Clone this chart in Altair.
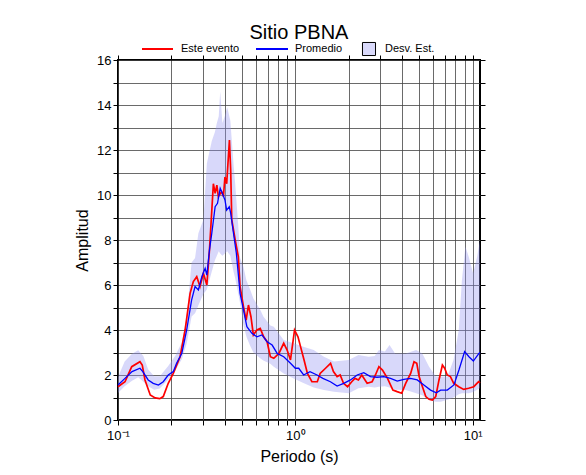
import altair as alt
import pandas as pd

# ---- data ----
red_period = [0.100, 0.1095, 0.1195, 0.133, 0.137, 0.142, 0.152, 0.162, 0.172, 0.180, 0.192, 0.205,
              0.224, 0.239, 0.255, 0.266, 0.278, 0.290, 0.303, 0.317, 0.328, 0.345, 0.353, 0.361,
              0.368, 0.384, 0.393, 0.401, 0.410, 0.425, 0.432, 0.438, 0.458, 0.477, 0.488, 0.510,
              0.528, 0.544, 0.562, 0.580, 0.607, 0.634, 0.663, 0.693, 0.723, 0.756, 0.808, 0.860,
              0.899, 0.939, 0.973, 0.990, 1.035, 1.07, 1.12, 1.17, 1.24, 1.33, 1.38, 1.48, 1.58,
              1.64, 1.72, 1.79, 1.87, 1.97, 2.08, 2.17, 2.27, 2.37, 2.54, 2.71, 2.83, 2.96, 3.10,
              3.31, 3.55, 3.75, 3.98, 4.19, 4.47, 4.67, 4.84, 4.99, 5.21, 5.44, 5.68, 5.93, 6.19,
              6.46, 6.75, 6.95, 7.19, 7.49, 7.82, 8.35, 8.90, 9.49, 10.15, 10.8, 11.0]
red_amp = [1.48, 1.70, 2.37, 2.59, 2.44, 1.78, 1.11, 0.98, 0.95, 1.04, 1.63, 2.07,
           2.81, 4.00, 5.63, 6.15, 6.37, 5.93, 6.52, 6.00, 7.56, 10.5, 10.07, 10.44,
           9.93, 10.15, 9.93, 10.8, 10.5, 12.44, 11.1, 8.9, 8.0, 7.26, 5.93, 5.04,
           4.44, 5.11, 4.59, 3.78, 4.00, 4.07, 3.70, 3.48, 2.81, 2.74, 2.96, 3.41,
           3.11, 2.67, 3.56, 4.00, 3.70, 3.26, 2.67, 2.07, 1.70, 1.70, 2.07, 2.30, 2.52,
           2.15, 1.93, 2.00, 1.63, 1.48, 1.70, 1.85, 1.78, 2.00, 1.63, 1.70, 2.00, 2.37, 2.22,
           1.85, 1.33, 1.26, 1.19, 1.63, 2.07, 2.59, 2.52, 1.93, 1.48, 1.04, 0.92, 0.89, 1.04,
           1.78, 2.44, 2.30, 2.00, 1.93, 1.63, 1.48, 1.36, 1.41, 1.48, 1.70, 1.65]

blue_period = [0.100, 0.1095, 0.120, 0.133, 0.138, 0.148, 0.158, 0.169, 0.180, 0.192, 0.205, 0.214,
               0.229, 0.244, 0.260, 0.272, 0.284, 0.297, 0.310, 0.317, 0.328, 0.338, 0.353, 0.364,
               0.377, 0.388, 0.401, 0.410, 0.424, 0.432, 0.448, 0.465, 0.488, 0.510, 0.533, 0.569,
               0.607, 0.648, 0.693, 0.740, 0.790, 0.860, 0.939, 1.00, 1.045, 1.114, 1.21, 1.326,
               1.43, 1.577, 1.72, 1.875, 2.046, 2.232, 2.432, 2.653, 2.894, 3.155, 3.442, 3.756,
               4.092, 4.465, 4.871, 5.307, 5.79, 6.235, 6.596, 7.194, 7.843, 8.367, 9.01, 9.53,
               10.09, 10.85, 11.0]
blue_amp = [1.56, 1.85, 2.15, 2.30, 2.15, 1.78, 1.63, 1.55, 1.70, 2.00, 2.15, 2.52,
            2.96, 4.00, 5.33, 5.93, 5.78, 6.37, 6.74, 6.44, 7.56, 8.30, 9.48, 9.63,
            10.3, 10.07, 9.78, 9.33, 9.48, 9.19, 8.30, 7.41, 5.63, 4.89, 4.15, 3.85,
            3.70, 3.78, 3.48, 3.33, 2.96, 2.81, 2.52, 2.30, 2.30, 2.00, 2.15, 2.00,
            1.85, 1.70, 1.51, 1.63, 1.78, 2.00, 2.10, 1.93, 1.90, 1.93, 1.85, 1.73,
            1.81, 1.85, 1.78, 1.56, 1.33, 1.21, 1.33, 1.33, 1.56, 2.22, 3.04, 2.81,
            2.62, 2.96, 3.00]

band_period = [0.100, 0.109, 0.120, 0.130, 0.139, 0.148, 0.160, 0.172, 0.192, 0.210, 0.229, 0.244,
               0.260, 0.272, 0.284, 0.303, 0.317, 0.338, 0.352, 0.361, 0.370, 0.377, 0.388, 0.400,
               0.413, 0.430, 0.448, 0.458, 0.477, 0.488, 0.510, 0.530, 0.556, 0.580, 0.634, 0.660,
               0.723, 0.756, 0.860, 0.980, 1.11, 1.27, 1.45, 1.65, 2.00, 2.27, 2.59, 2.80, 2.96,
               3.20, 3.40, 3.65, 4.20, 4.80, 5.20, 5.68, 6.20, 6.60, 7.20, 7.80, 8.35, 8.70, 9.10,
               9.50, 10.06, 10.6, 11.0]
band_lo = [1.20, 1.50, 1.75, 1.90, 1.70, 1.50, 1.35, 1.40, 1.80, 2.20, 2.70, 3.40,
           4.60, 4.75, 5.10, 5.60, 5.80, 6.60, 7.10, 7.30, 7.50, 7.40, 7.30, 7.40,
           7.50, 7.30, 6.60, 6.30, 5.60, 5.20, 4.20, 3.70, 3.30, 3.00, 2.75, 2.65,
           2.50, 2.37, 2.07, 1.85, 1.65, 1.45, 1.33, 1.26, 1.19, 1.41, 1.48, 1.45, 1.48,
           1.50, 1.45, 1.35, 1.33, 1.19, 1.10, 0.89, 0.81, 0.81, 0.90, 1.00, 1.15, 1.19, 1.19,
           1.19, 1.25, 1.35, 1.41]
band_hi = [1.90, 2.60, 2.95, 3.10, 2.85, 2.25, 1.95, 1.95, 2.40, 2.85, 3.45, 4.60,
           7.00, 7.20, 8.30, 8.90, 11.4, 12.4, 12.8, 13.2, 13.5, 14.6, 13.2, 13.5,
           13.9, 13.3, 11.4, 10.5, 8.60, 7.20, 6.80, 6.20, 5.80, 5.40, 4.90, 4.60,
           4.20, 4.15, 3.56, 3.41, 3.26, 3.11, 2.81, 2.60, 2.67, 2.89, 2.81, 2.85, 3.11,
           3.04, 3.33, 2.96, 2.96, 3.11, 2.96, 2.37, 1.93, 1.93, 1.93, 2.67, 4.00, 6.22, 7.70,
           7.26, 6.52, 7.26, 8.00]

x_ticks = [0.1, 0.2, 0.3, 0.4, 0.5, 0.6, 0.7, 0.8, 0.9, 1, 2, 3, 4, 5, 6, 7, 8, 9, 10]
y_ticks = list(range(0, 17))
legend_labels = ["Este evento", "Promedio", "Desv. Est."]

FONT = "Liberation Sans"
RED = "#ff0000"
BLUE = "#0000ff"
BAND = "#9494f2"

df_red = pd.DataFrame({"period": red_period, "amp": red_amp})
df_blue = pd.DataFrame({"period": blue_period, "amp": blue_amp})
df_band = pd.DataFrame({"period": band_period, "lo": band_lo, "hi": band_hi})
df_leg = pd.DataFrame({"label": legend_labels})

xscale = alt.Scale(type="log", domain=[0.1, 11], nice=False)
yscale = alt.Scale(domain=[0, 16], nice=False, zero=False)

xlab = ("datum.value == 0.1 ? '10\u207b\u00b9' : (datum.value == 1 ? '10\u2070' : "
        "(datum.value == 10 ? '10\u00b9' : ''))")
xaxis = alt.Axis(values=x_ticks, labelExpr=xlab, labelOverlap=False, labelFlush=False,
                 title="Periodo (s)", grid=True, labelPadding=4, titlePadding=6)
yaxis = alt.Axis(values=y_ticks, labelExpr="datum.value % 2 == 0 ? datum.label : ''",
                 labelOverlap=False, title="Amplitud", grid=True, titlePadding=6)

band = alt.Chart(df_band).mark_area(color=BAND, opacity=0.36).encode(
    x=alt.X("period:Q", scale=xscale, axis=xaxis),
    y=alt.Y("lo:Q", scale=yscale, axis=yaxis),
    y2="hi:Q",
)
red = alt.Chart(df_red).mark_line(color=RED, strokeWidth=1.7).encode(
    x=alt.X("period:Q", scale=xscale, axis=xaxis),
    y=alt.Y("amp:Q", scale=yscale, axis=yaxis),
)
blue = alt.Chart(df_blue).mark_line(color=BLUE, strokeWidth=1.3).encode(
    x=alt.X("period:Q", scale=xscale, axis=xaxis),
    y=alt.Y("amp:Q", scale=yscale, axis=yaxis),
)
main = alt.layer(band, red, blue)

frame = alt.Chart(df_blue).mark_line(opacity=0).encode(
    x=alt.X("period:Q", scale=xscale,
            axis=alt.Axis(orient="top", values=x_ticks, labels=False, grid=False, title=None)),
    y=alt.Y("amp:Q", scale=yscale,
            axis=alt.Axis(orient="right", values=y_ticks, labels=False, grid=False, title=None)),
)

# legend (drawn above the plot)
LY = -11
leg_items = []
leg_items.append(alt.Chart(df_leg).transform_filter(alt.datum.label == legend_labels[0])
                 .mark_rule(color=RED, strokeWidth=2)
                 .encode(x=alt.value(24), x2=alt.value(55), y=alt.value(LY)))
leg_items.append(alt.Chart(df_leg).transform_filter(alt.datum.label == legend_labels[1])
                 .mark_rule(color=BLUE, strokeWidth=2)
                 .encode(x=alt.value(138), x2=alt.value(170), y=alt.value(LY)))
leg_items.append(alt.Chart(df_leg).transform_filter(alt.datum.label == legend_labels[2])
                 .mark_square(fill="#d9d9fa", stroke="black", strokeWidth=1, size=170, opacity=1)
                 .encode(x=alt.value(251), y=alt.value(LY)))
for lab, xpos in zip(legend_labels, [63, 177, 267]):
    leg_items.append(alt.Chart(df_leg).transform_filter(alt.datum.label == lab)
                     .mark_text(align="left", baseline="middle", font=FONT, fontSize=11, color="black")
                     .encode(x=alt.value(xpos), y=alt.value(LY), text="label:N"))

chart = alt.layer(main, frame, *leg_items).resolve_axis(x="independent", y="independent").properties(
    width=362, height=360,
    autosize=alt.AutoSizeParams(type="none"),
    padding={"left": 110, "top": 52, "right": 90, "bottom": 50},
    title=alt.TitleParams("Sitio PBNA", font=FONT, fontSize=20, fontWeight="normal",
                          color="black", anchor="middle", offset=-3),
).configure_view(stroke="black", strokeWidth=2).configure_axis(
    domain=False, tickColor="black", tickSize=5, tickWidth=1,
    gridColor="#444444", gridWidth=0.8, gridOpacity=1,
    labelFont=FONT, labelFontSize=13, labelColor="black",
    titleFont=FONT, titleFontSize=16, titleFontWeight="normal", titleColor="black",
)

chart.save("out.html", embed_options={"renderer": "svg", "actions": False})
